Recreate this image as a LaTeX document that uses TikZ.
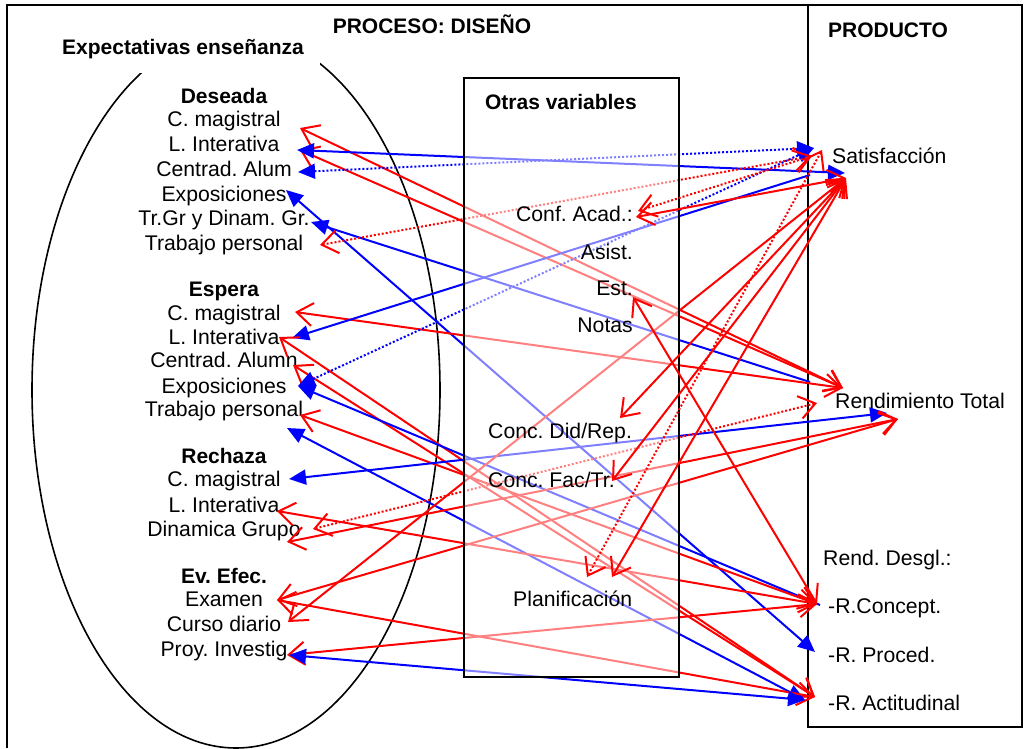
\documentclass[tikz,border=0pt]{standalone}
\usepackage{fontspec}
\setmainfont{Liberation Sans}
\usetikzlibrary{arrows.meta}
\definecolor{lnred}{RGB}{255,0,0}
\definecolor{lnblue}{RGB}{0,0,255}
\frenchspacing
\begin{document}
\begin{tikzpicture}[x=1pt,y=-1pt,
  txt/.style={font=\fontsize{21.2}{24}\selectfont, inner sep=0pt, anchor=base},
  head/.style={txt, font=\fontsize{21}{24}\selectfont\bfseries},
  frame/.style={draw=black, line width=2pt},
  rr/.style={draw=lnred, line width=2pt,
    arrows={Straight Barb[length=16pt,width=23pt]-Straight Barb[length=16pt,width=23pt]}},
  bb/.style={draw=lnblue, line width=2pt,
    arrows={Triangle[length=17pt,width=15pt]-Triangle[length=17pt,width=15pt]}},
  bl/.style={draw=lnblue, line width=2pt, arrows={Triangle[length=17pt,width=15pt]-}},
  dots/.style={dash pattern=on 2pt off 2pt}]
\useasboundingbox (0,0) rectangle (1026,748);

% frames
\draw[frame] (7,748) -- (7,5) -- (1022,5);
\draw[frame] (808,5) rectangle (1022,727);
\draw[line width=1.6pt] (236,390) ellipse [x radius=204, y radius=358];
\fill[white] (40,16) rectangle (320,73);

% headings
\node[head] (hexp) at (183,54) {Expectativas enseñanza};
\node[head] (hproc) at (432,33) {PROCESO: DISEÑO};
\node[head] (hprod) at (888,37) {PRODUCTO};

% teaching expectations
\node[head] (des) at (224,103) {Deseada};
\node[txt] (d1) at (224,126) {C. magistral};
\node[txt] (d2) at (224,151) {L. Interativa};
\node[txt] (d3) at (224,176) {Centrad. Alum};
\node[txt] (d4) at (224,201) {Exposiciones};
\node[txt] (d5) at (224,225) {Tr.Gr y Dinam. Gr.};
\node[txt] (d6) at (224,250) {Trabajo personal};
\node[head] (esp) at (224,296) {Espera};
\node[txt] (e1) at (224,320) {C. magistral};
\node[txt] (e2) at (224,344) {L. Interativa};
\node[txt] (e3) at (224,367) {Centrad. Alumn};
\node[txt] (e4) at (224,393) {Exposiciones};
\node[txt] (e5) at (224,416) {Trabajo personal};
\node[head] (rec) at (224,463) {Rechaza};
\node[txt] (r1) at (224,486) {C. magistral};
\node[txt] (r2) at (224,512) {L. Interativa};
\node[txt] (r3) at (224,536) {Dinamica Grupo};
\node[head] (eve) at (224,583) {Ev. Efec.};
\node[txt] (v1) at (224,606) {Examen};
\node[txt] (v2) at (224,631) {Curso diario};
\node[txt] (v3) at (224,656) {Proy. Investig};

% product
\node[txt, anchor=base west] (sat) at (832,163) {Satisfacción};
\node[txt, anchor=base west] (rtot) at (835,408) {Rendimiento Total};
\node[txt, anchor=base west] (rdes) at (823,565) {Rend. Desgl.:};
\node[txt, anchor=base west] (rcon) at (828,613) {-R.Concept.};
\node[txt, anchor=base west] (rpro) at (828,662) {-R. Proced.};
\node[txt, anchor=base west] (ract) at (828,710) {-R. Actitudinal};

% connector ends, left side
\coordinate (dCM) at (300,128);
\coordinate (dLIr) at (300,150);
\coordinate (dLIb) at (297,150);
\coordinate (dCA) at (298,172);
\coordinate (dEX) at (286,190);
\coordinate (dTG) at (311,222);
\coordinate (dTP) at (320,245);
\coordinate (eCM) at (295,312);
\coordinate (eLIb) at (292,338);
\coordinate (eLIr) at (279,337);
\coordinate (eCA) at (293,365);
\coordinate (eEX) at (298,386);
\coordinate (eTPr) at (300,415);
\coordinate (eTPb) at (287,428);
\coordinate (rCM) at (289,479);
\coordinate (rLI) at (277,511);
\coordinate (rDGd) at (313,529);
\coordinate (rDG) at (287,542);
\coordinate (vEX) at (277,600);
\coordinate (vCD) at (288,622);
\coordinate (vPIr) at (287,655);
\coordinate (vPIb) at (289,655);

% connector ends, product side
\coordinate (satB) at (845,173);
\coordinate (satBd) at (814,148);
\coordinate (satE) at (810,175);
\coordinate (satR) at (846,178);
\coordinate (satRd) at (812,156);
\coordinate (satRp) at (822,150);
\coordinate (rtR) at (843,388);
\coordinate (rtE) at (810,382);
\coordinate (rtRd) at (817,403);
\coordinate (rtB) at (887,413);
\coordinate (rtR2) at (898,419);
\coordinate (rcR) at (817,604);
\coordinate (rcE) at (820,605);
\coordinate (rpB) at (815,652);
\coordinate (raR) at (815,697);
\coordinate (raB) at (805,700);

% links from the expectations to the product
\draw[rr] (dCM) -- (rtR);
\draw[rr] (dLIr) -- (rtR);
\draw[bb] (dLIb) -- (satB);
\draw[bb, dots] (dCA) -- (satBd);
\draw[bb] (dEX) -- (rpB);
\draw[bl] (dTG) -- (rtE);
\draw[rr, dots] (dTP) -- (satRd);
\draw[rr] (eCM) -- (rtR);
\draw[bl] (eLIb) -- (satE);
\draw[rr] (eLIr) -- (raR);
\draw[rr] (eCA) -- (raR);
\draw[bb, dots] (eEX) -- (satBd);
\draw[bl] (eEX) -- (rcE);
\draw[rr] (eTPr) -- (rcR);
\draw[bb] (eTPb) -- (raB);
\draw[bb] (rCM) -- (rtB);
\draw[rr] (rLI) -- (rcR);
\draw[rr, dots] (rDGd) -- (rtRd);
\draw[rr] (rDG) -- (rtR2);
\draw[rr] (vEX) -- (rtR2);
\draw[rr] (vEX) -- (raR);
\draw[rr] (vCD) -- (satR);
\draw[rr] (vPIr) -- (rcR);
\draw[bb] (vPIb) -- (raB);

% other variables box, half transparent over the links
\fill[white, opacity=0.5] (464,78) rectangle (679,677);
\draw[frame] (464,78) rectangle (679,677);
\node[head] (otr) at (561,109) {Otras variables};
\node[txt, anchor=base east] (conf) at (633,221) {Conf. Acad.:};
\node[txt, anchor=base east] (asis) at (633,259) {Asist.};
\node[txt, anchor=base east] (est) at (633,295) {Est.};
\node[txt, anchor=base east] (not) at (633,332) {Notas};
\node[txt, anchor=base west] (cdr) at (488,438) {Conc. Did/Rep.};
\node[txt, anchor=base west] (cft) at (488,487) {Conc. Fac/Tr.};
\node[txt, anchor=base west] (pla) at (513,606) {Planificación};

\coordinate (mCA) at (636,217);
\coordinate (mCAd) at (638,211);
\coordinate (mEST) at (633,297);
\coordinate (mDR) at (620,418);
\coordinate (mFT) at (612,481);
\coordinate (mPL) at (612,577);
\coordinate (mPLd) at (587,577);

\draw[rr] (mCA) -- (satR);
\draw[rr, dots] (mCAd) -- (satRd);
\draw[rr] (mEST) -- (rcR);
\draw[rr] (mDR) -- (satR);
\draw[rr] (mFT) -- (satR);
\draw[rr] (mPL) -- (satR);
\draw[rr, dots] (mPLd) -- (satRp);
\end{tikzpicture}
\end{document}
